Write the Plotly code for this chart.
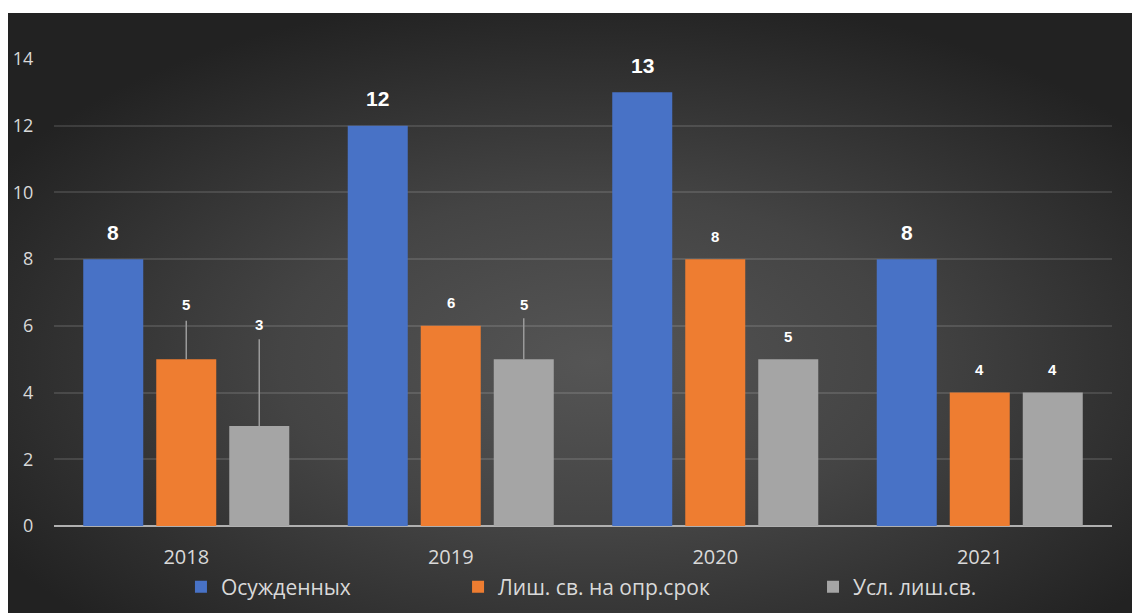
import base64
import plotly.graph_objects as go

# ---- data ----
years = ["2018", "2019", "2020", "2021"]
convicted = [8, 12, 13, 8]            # Осужденных
prison_term = [5, 6, 8, 4]            # Лиш. св. на опр.срок
suspended = [3, 5, 5, 4]              # Усл. лиш.св.
series_names = ["Осужденных", "Лиш. св. на опр.срок", "Усл. лиш.св."]
y_ticks = [0, 2, 4, 6, 8, 10, 12, 14]

# ---- label placement (Excel leader lines) ----
# label centre (data units) for labels that were dragged away from their bar
moved_label_y = {(1, 0): 6.65, (2, 0): 6.03, (2, 1): 6.65}
leader_top = {(1, 0): 6.15, (2, 0): 5.6, (2, 1): 6.23}

colors = ["#4872c6", "#ee7d31", "#a5a5a5"]
series = [convicted, prison_term, suspended]

svg = """<svg xmlns='http://www.w3.org/2000/svg' width='1124' height='600' viewBox='0 0 1124 600' preserveAspectRatio='none'>
<defs><radialGradient id='g' cx='52%' cy='58%' r='62%' fx='52%' fy='58%'>
<stop offset='0%' stop-color='#555555'/>
<stop offset='45%' stop-color='#444444'/>
<stop offset='100%' stop-color='#222222'/>
</radialGradient></defs>
<rect width='1124' height='600' fill='url(#g)'/></svg>"""
bg_src = "data:image/svg+xml;base64," + base64.b64encode(svg.encode()).decode()

fig = go.Figure()
legend_ids = ["legend", "legend2", "legend3"]
for si, (name, vals, col) in enumerate(zip(series_names, series, colors)):
    err_up = [round(leader_top[(si, i)] - v, 3) if (si, i) in leader_top else 0
              for i, v in enumerate(vals)]
    fig.add_trace(go.Bar(
        x=years, y=vals, name=name,
        marker=dict(color=col, line=dict(width=0)),
        legend=legend_ids[si],
        error_y=dict(type="data", symmetric=False, array=err_up,
                     arrayminus=[0] * len(vals), width=0,
                     thickness=1.5, color="#9a9a9a"),
    ))

slot_px = 73
for si, vals in enumerate(series):
    for i, v in enumerate(vals):
        big = si == 0
        if (si, i) in moved_label_y:
            yv, ys = moved_label_y[(si, i)], 0
        else:
            yv, ys = v, (27 if big else 23)
        fig.add_annotation(
            x=i, y=yv, xref="x", yref="y", yshift=ys,
            xshift=(si - 1) * slot_px,
            text=str(v), showarrow=False, yanchor="middle",
            font=dict(family="Liberation Sans, Arial, sans-serif",
                      size=21 if big else 15, color="#ffffff", weight="bold"),
        )

tick_font = dict(family="Open Sans, sans-serif", size=18, color="#d9d9d9")
legend_font = dict(family="Open Sans, sans-serif", size=21, color="#d9d9d9")
leg_common = dict(orientation="h", yref="container", y=0.0424, xanchor="left",
                  yanchor="middle", bgcolor="rgba(0,0,0,0)", font=legend_font)
fig.update_layout(
    width=1132, height=613,
    margin=dict(l=54, r=20, t=59, b=87, autoexpand=False),
    paper_bgcolor="#ffffff",
    plot_bgcolor="rgba(0,0,0,0)",
    barmode="group",
    bargap=0.172,
    bargroupgap=0.178,
    images=[dict(source=bg_src, xref="paper", yref="paper",
                 x=-0.04348, y=1.0985, sizex=1.06238, sizey=1.2848,
                 xanchor="left", yanchor="top", sizing="stretch",
                 layer="below")],
    xaxis=dict(type="category", showgrid=False, showline=False, zeroline=False,
               automargin=False,
               ticks="outside", ticklen=13, tickcolor="rgba(0,0,0,0)",
               tickfont=dict(family="Open Sans, sans-serif", size=20, color="#d9d9d9")),
    yaxis=dict(range=[0, 14], tickvals=y_ticks, automargin=False,
               ticks="outside", ticklen=16, tickcolor="rgba(0,0,0,0)",
               showgrid=True, gridcolor="rgba(255,255,255,0.12)", gridwidth=1.5,
               zeroline=True, zerolinecolor="#b0b0b0", zerolinewidth=2,
               showline=False, tickfont=tick_font),
    legend=dict(x=0.12, **leg_common),
    legend2=dict(x=0.3819, **leg_common),
    legend3=dict(x=0.7174, **leg_common),
    showlegend=True,
)

fig.write_html("out.html")
